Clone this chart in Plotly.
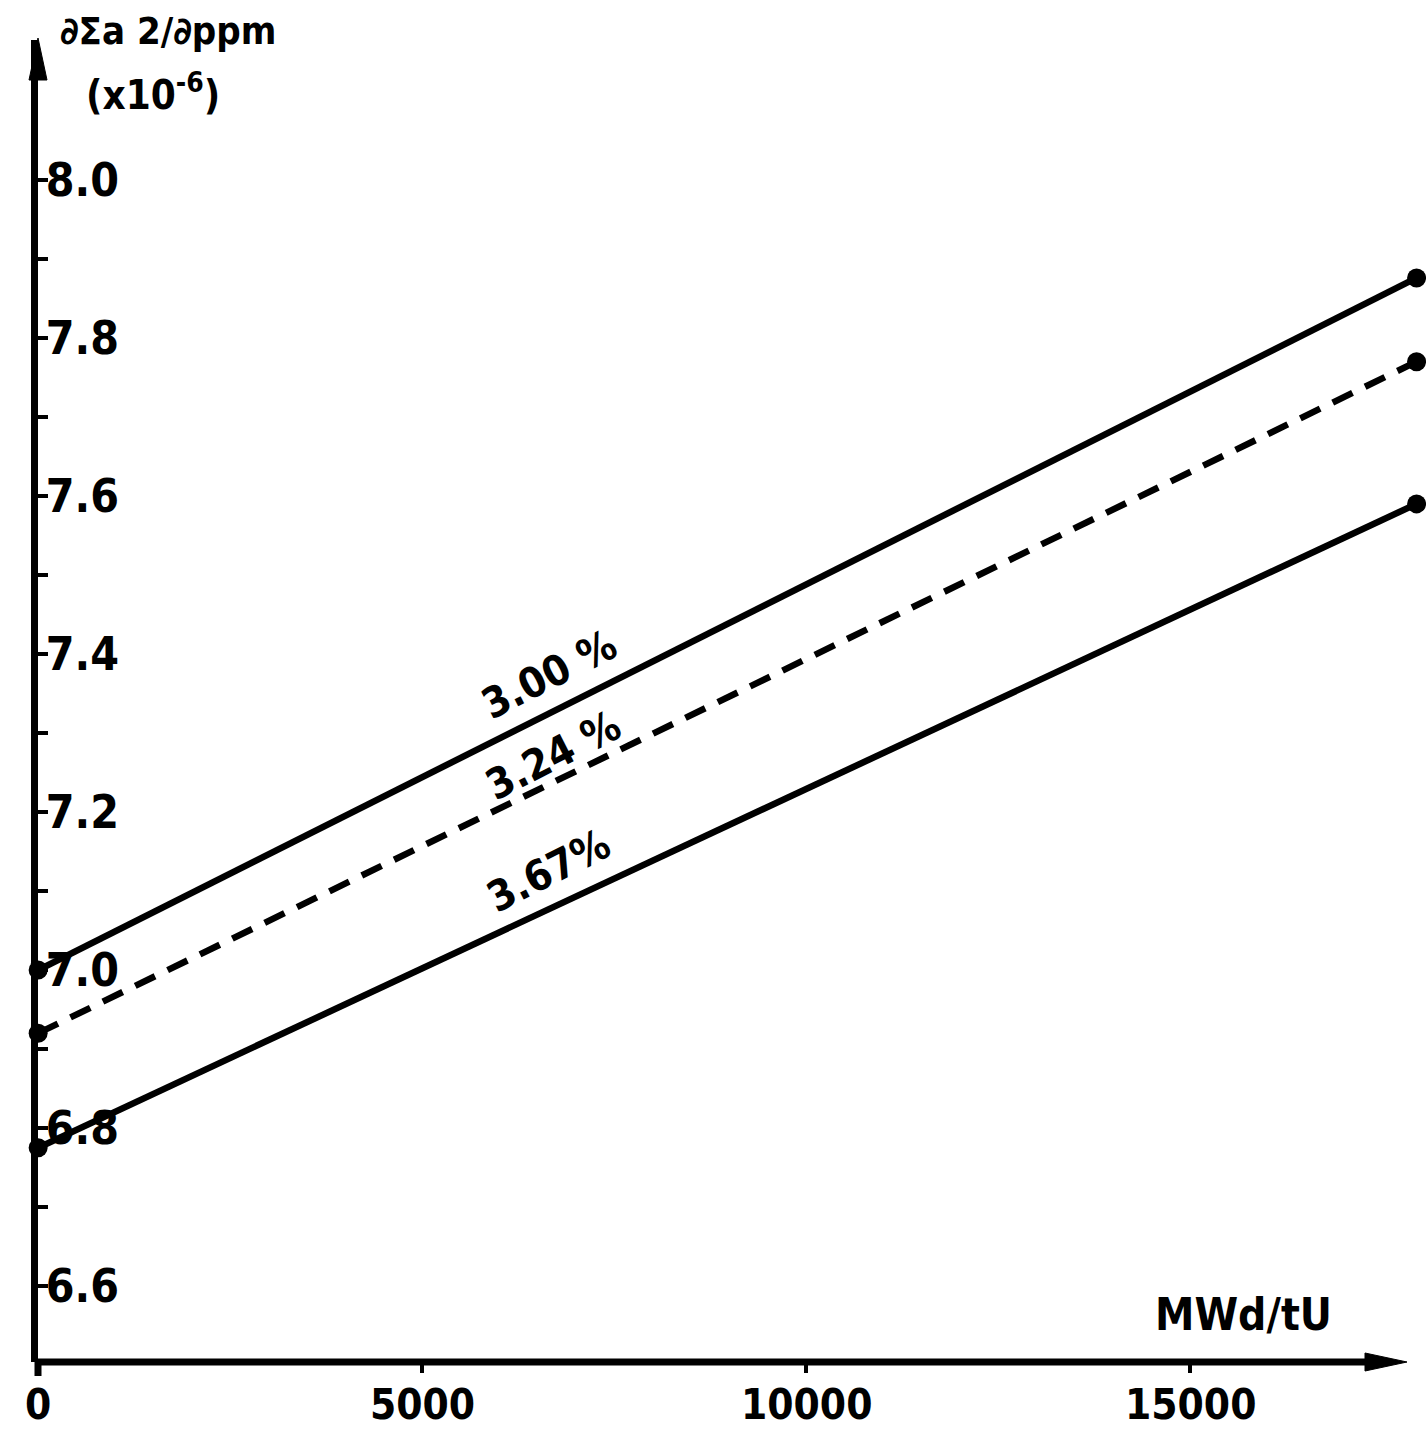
import plotly.graph_objects as go

# Data
burnup = [0, 17950]
series_names = ["3.00 %", "3.24 %", "3.67%"]
val_300 = [7.00, 7.876]
val_324 = [6.92, 7.77]
val_367 = [6.775, 7.59]
y_tickvals = [6.6, 6.8, 7.0, 7.2, 7.4, 7.6, 7.8, 8.0]
y_ticktext = ["6.6", "6.8", "7.0", "7.2", "7.4", "7.6", "7.8", "8.0"]
y_minor_vals = [6.7, 6.9, 7.1, 7.3, 7.5, 7.7, 7.9]
x_tickvals = [0, 5000, 10000, 15000]
x_ticktext = ["0", "5000", "10000", "15000"]

FONT = "DejaVu Sans Condensed, DejaVu Sans, sans-serif"
BLACK = "#000000"

fig = go.Figure()
dashes = ["solid", "22px,14px", "solid"]
for name, vals, dash in zip(series_names, [val_300, val_324, val_367], dashes):
    fig.add_trace(go.Scatter(
        x=burnup, y=vals, mode="lines+markers", name=name,
        line=dict(color=BLACK, width=6.5, dash=dash),
        marker=dict(color=BLACK, size=19),
        cliponaxis=False, showlegend=False,
    ))

# line labels
label_pos = [(6650, 7.374), (6700, 7.272), (6650, 7.126)]
for name, (lx, ly) in zip(series_names, label_pos):
    fig.add_annotation(x=lx, y=ly, xref="x", yref="y", text=f"<b>{name}</b>",
                       showarrow=False, textangle=-27,
                       font=dict(family=FONT, size=42, color=BLACK))

W, H = 1426, 1436
L, R, T, B = 38, 0, 40, 74
pw, ph = W - L - R, H - T - B

def px(x):
    return (x - L) / pw

def py(y):
    return (H - B - y) / ph

# x tick labels drawn as annotations (the axis hides the one at the origin)
for tv, tt in zip(x_tickvals, x_ticktext):
    fig.add_annotation(x=tv, y=0, xref="x", yref="paper", text=f"<b>{tt}</b>",
                       xanchor="center", yanchor="top", yshift=-16, showarrow=False,
                       font=dict(family=FONT, size=42, color=BLACK))

# axis titles
fig.add_annotation(x=px(58), y=py(31), xref="paper", yref="paper", text="<b>∂Σa 2/∂ppm</b>",
                   xanchor="left", yanchor="middle", showarrow=False,
                   font=dict(family=FONT, size=38, color=BLACK))
fig.add_annotation(x=px(84), y=py(92), xref="paper", yref="paper", text="<b>(x10<sup>-6</sup>)</b>",
                   xanchor="left", yanchor="middle", showarrow=False,
                   font=dict(family=FONT, size=40, color=BLACK))
fig.add_annotation(x=px(1243), y=py(1314), xref="paper", yref="paper", text="<b>MWd/tU</b>",
                   xanchor="center", yanchor="middle", showarrow=False,
                   font=dict(family=FONT, size=44, color=BLACK))

# arrows (pixel-sized paths anchored in paper coords)
fig.add_shape(type="path", xref="paper", yref="paper", xsizemode="pixel", ysizemode="pixel",
              xanchor=0, yanchor=1,
              path="M -9,-40 L 0,2 L 9,-40 Z", fillcolor=BLACK, line=dict(color=BLACK, width=1))
fig.add_shape(type="line", xref="paper", yref="paper", x0=0, x1=px(1390), y0=0, y1=0,
              line=dict(color=BLACK, width=7))
fig.add_shape(type="path", xref="paper", yref="paper", xsizemode="pixel", ysizemode="pixel",
              xanchor=px(1407), yanchor=0,
              path="M -42,-9 L 0,0 L -42,9 Z", fillcolor=BLACK, line=dict(color=BLACK, width=1))
fig.add_shape(type="line", xref="paper", yref="paper", xsizemode="pixel", ysizemode="pixel",
              xanchor=0, yanchor=0, x0=0, x1=0, y0=0, y1=-14,
              line=dict(color=BLACK, width=7))

fig.update_layout(
    width=W, height=H,
    margin=dict(l=L, r=R, t=T, b=B, pad=0, autoexpand=False),
    paper_bgcolor="white", plot_bgcolor="white",
    showlegend=False,
    xaxis=dict(range=[-2, pw / 0.0768], showgrid=False, zeroline=False, showline=False,
               automargin=False, showticklabels=False,
               tickvals=x_tickvals[1:], ticks="outside", ticklen=10,
               tickwidth=4, tickcolor=BLACK),
    yaxis=dict(range=[8.0 - (1362 - 180) / 790, 8.0 + (180 - 40) / 790], showgrid=False,
               automargin=False,
               zeroline=False, showline=True, linecolor=BLACK, linewidth=7,
               tickvals=y_tickvals, ticktext=y_ticktext, ticks="inside", ticklen=10,
               tickwidth=4, tickcolor=BLACK, ticklabelposition="inside", ticklabelstandoff=4,
               tickfont=dict(family=FONT, size=46, color=BLACK, weight="bold"),
               minor=dict(tickvals=y_minor_vals, ticks="inside", ticklen=10,
                          tickwidth=4, tickcolor=BLACK, showgrid=False)),
)

fig.write_html("out.html")
